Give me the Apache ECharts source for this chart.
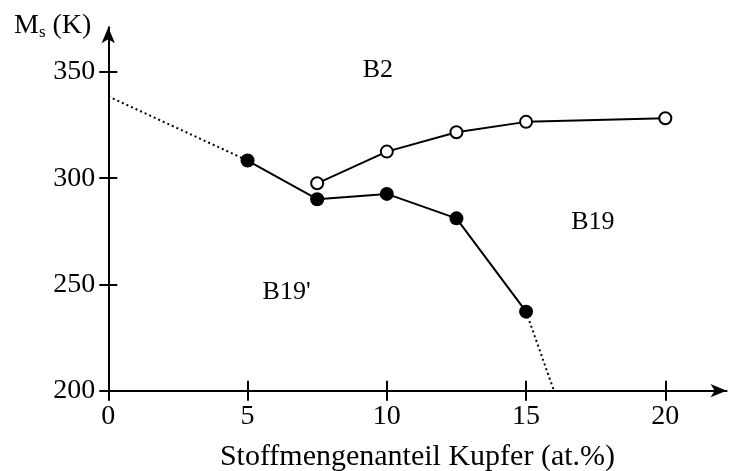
<!DOCTYPE html>
<html><head><meta charset="utf-8">
<script src="https://cdn.jsdelivr.net/npm/echarts@6/dist/echarts.min.js"></script>
<style>html,body{margin:0;padding:0;background:#fff}#c{width:733px;height:471px}</style>
</head><body><div id="c"></div>
<script>
const xTicks = [0, 5, 10, 15, 20];
const yTicks = [200, 250, 300, 350];
const filledX = [5, 7.5, 10, 12.5, 15];
const filledY = [308.3, 290.1, 292.6, 281.1, 237.2];
const openX = [7.5, 10, 12.5, 15, 20];
const openY = [297.6, 312.5, 321.6, 326.5, 328.2];
const dottedLeftX = [0, 5];
const dottedLeftY = [338.5, 308.3];
const dottedRightX = [15, 16];
const dottedRightY = [237.2, 200];
const regionNames = ["B2", "B19", "B19'"];
const regionX = [9.68, 17.4, 6.4];
const regionY = [350.9, 279.5, 246.5];

const zip = (a, b) => a.map((v, i) => [v, b[i]]);
const FONT = '"Liberation Serif", "DejaVu Serif", serif';
const XMIN = 0, XMAX = 22.2, YMIN = 200, YMAX = 371;

const chart = echarts.init(document.getElementById('c'));
const baseX = {
  type: 'value', min: XMIN, max: XMAX, interval: 5, position: 'bottom',
  splitLine: {show: false}
};
const baseY = {
  type: 'value', min: YMIN, max: YMAX, interval: 50, position: 'left',
  splitLine: {show: false}
};
chart.setOption({
  animation: false,
  grid: {left: 108.3, top: 27.3, width: 618.3, height: 363.4, containLabel: false, outerBoundsMode: 'none'},
  xAxis: [
    Object.assign({}, baseX, {
      axisLine: {show: true, lineStyle: {color: '#000', width: 2}, symbol: ['none', 'arrow'], symbolSize: [10, 16]},
      axisTick: {show: true, length: 10, customValues: xTicks, lineStyle: {color: '#000', width: 2}},
      axisLabel: {color: '#000', fontFamily: FONT, fontSize: 28, margin: 12, customValues: xTicks},
      name: 'Stoffmengenanteil Kupfer (at.%)', nameLocation: 'middle', nameGap: 51,
      nameTextStyle: {color: '#000', fontFamily: FONT, fontSize: 30}
    }),
    Object.assign({}, baseX, {
      axisLine: {show: false}, axisLabel: {show: false},
      axisTick: {show: true, inside: true, length: 10, customValues: xTicks, lineStyle: {color: '#000', width: 2}}
    })
  ],
  yAxis: [
    Object.assign({}, baseY, {
      axisLine: {show: true, lineStyle: {color: '#000', width: 2}, symbol: ['none', 'arrow'], symbolSize: [10, 16]},
      axisTick: {show: true, length: 9, customValues: yTicks, lineStyle: {color: '#000', width: 2}},
      axisLabel: {color: '#000', fontFamily: FONT, fontSize: 28, margin: 13, customValues: yTicks}
    }),
    Object.assign({}, baseY, {
      axisLine: {show: false}, axisLabel: {show: false},
      axisTick: {show: true, inside: true, length: 9, customValues: yTicks, lineStyle: {color: '#000', width: 2}}
    })
  ],
  graphic: [{
    type: 'text', left: 14, top: 12,
    style: {
      text: '{m|M}{s|s}{m| (K)}',
      rich: {
        m: {fontFamily: FONT, fontSize: 28, fill: '#000'},
        s: {fontFamily: FONT, fontSize: 17, fill: '#000', padding: [14, 0, 0, 0]}
      }
    }
  }],
  series: [
    {type: 'line', data: zip(dottedLeftX, dottedLeftY), symbol: 'none', z: 1,
      lineStyle: {color: '#000', width: 2, type: [2, 3]}},
    {type: 'line', data: zip(dottedRightX, dottedRightY), symbol: 'none', z: 1,
      lineStyle: {color: '#000', width: 2, type: [2, 3]}},
    {type: 'line', data: zip(filledX, filledY), symbol: 'circle', symbolSize: 14, z: 3,
      lineStyle: {color: '#000', width: 2}, itemStyle: {color: '#000'}},
    {type: 'line', data: zip(openX, openY), symbol: 'circle', symbolSize: 12, z: 3,
      lineStyle: {color: '#000', width: 2},
      itemStyle: {color: '#fff', borderColor: '#000', borderWidth: 2}},
    {type: 'scatter', data: zip(regionX, regionY).map((p, i) => ({value: p, name: regionNames[i]})),
      symbolSize: 0, z: 4, itemStyle: {opacity: 1},
      label: {show: true, position: 'inside', formatter: p => p.name, opacity: 1,
        color: '#000', fontFamily: FONT, fontSize: 26}}
  ]
});
</script></body></html>
